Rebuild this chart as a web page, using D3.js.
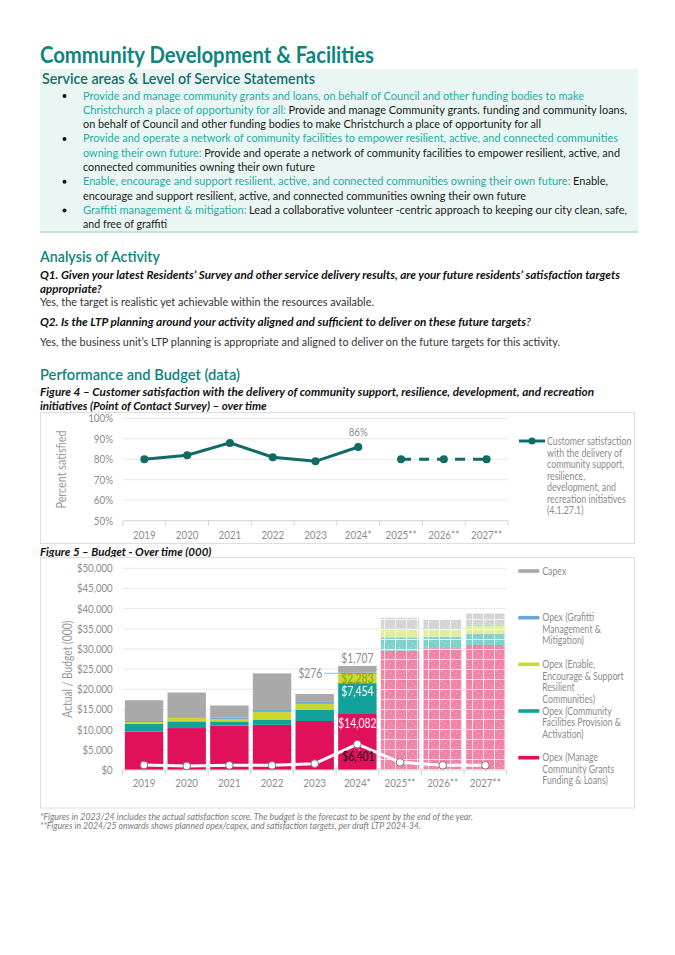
<!DOCTYPE html>
<html>
<head>
<meta charset="utf-8">
<script src="https://cdn.jsdelivr.net/npm/d3@7"></script>
<style>
  body { margin: 0; background: #fff; }
  svg text { font-family: Lato, "Noto Sans", sans-serif; }
  svg text.run { white-space: pre; }
</style>
</head>
<body>
<div id="page"></div>
<script>
// ---------- data ----------
const years = ["2019", "2020", "2021", "2022", "2023", "2024*", "2025**", "2026**", "2027**"];
const forecastFrom = 6; // index of first planned year

const satisfaction = [80, 82, 88, 81, 79, 86, 80, 80, 80];
const satTicks = [0.5, 0.6, 0.7, 0.8, 0.9, 1.0];

const opexGrants = [9500, 10400, 11000, 11200, 12150, 14082, 29600, 30200, 31000];
const opexFacilities = [1900, 1650, 1050, 1200, 2750, 7454, 3300, 2800, 2700];
const opexEnable = [500, 850, 550, 2000, 1500, 2283, 1900, 1900, 2000];
const opexGraffiti = [250, 200, 350, 500, 500, 276, 250, 250, 300];
const capex = [5150, 6100, 3050, 9050, 1950, 1707, 2700, 2100, 2800];
const whiteLine = [1240, 1000, 1150, 1150, 1570, 6401, 1900, 1160, 1160];
const budgetTicks = [0, 5000, 10000, 15000, 20000, 25000, 30000, 35000, 40000, 45000, 50000];

const seriesKeys = ["grants", "facilities", "enable", "graffiti", "capex"];
const seriesLabels = {
  capex: ["Capex"],
  graffiti: ["Opex (Grafitti", "Management &", "Mitigation)"],
  enable: ["Opex (Enable,", "Encourage & Support", "Resilient", "Communities)"],
  facilities: ["Opex (Community", "Facilities Provision &", "Activation)"],
  grants: ["Opex (Manage", "Community Grants", "Funding & Loans)"]
};
const satLegend = ["Customer satisfaction", "with the delivery of", "community support,", "resilience,",
  "development, and", "recreation initiatives", "(4.1.27.1)"];

// ---------- page text ----------
const bulletLines = [
  { b: true, end: 584, s: [["t", "Provide and manage community grants and loans, on behalf of Council and other funding bodies to make"]] },
  { end: 627, s: [["t", "Christchurch a place of opportunity for all: "], ["k", "Provide and manage Community grants. funding and community loans,"]] },
  { end: 541, s: [["k", "on behalf of Council and other funding bodies to make Christchurch a place of opportunity for all"]] },
  { b: true, end: 618, s: [["t", "Provide and operate a network of community facilities to empower resilient, active, and connected communities"]] },
  { end: 620, s: [["t", "owning their own future: "], ["k", "Provide and operate a network of community facilities to empower resilient, active, and"]] },
  { end: 315, s: [["k", "connected communities owning their own future"]] },
  { b: true, end: 608, s: [["t", "Enable, encourage and support resilient, active, and connected communities owning their own future: "], ["k", "Enable,"]] },
  { end: 526, s: [["k", "encourage and support resilient, active, and connected communities owning their own future"]] },
  { b: true, end: 627, s: [["t", "Graffiti management & mitigation: "], ["k", "Lead a collaborative volunteer -centric approach to keeping our city clean, safe,"]] },
  { end: 167, s: [["k", "and free of graffiti"]] }
];

const W = 675, H = 955;
const teal = "#0b857d";
const grey = "#8c8c8c";

// squeeze text horizontally (the original face is narrower than the installed ones)
function squeeze(sel, f) {
  sel.each(function () {
    const n = this.getComputedTextLength();
    d3.select(this).attr("textLength", n * f).attr("lengthAdjust", "spacingAndGlyphs");
  });
  return sel;
}
function fitTo(sel, w) {
  return sel.attr("textLength", w).attr("lengthAdjust", "spacingAndGlyphs");
}

const svg = d3.select("#page").append("svg")
  .attr("width", W).attr("height", H);

svg.append("rect").attr("width", W).attr("height", H).attr("fill", "#fff");

// title
fitTo(svg.append("text").attr("x", 40).attr("y", 63)
  .attr("font-size", 22).attr("font-weight", 700).attr("fill", teal)
  .text("Community Development & Facilities"), 334);

// service areas box
svg.append("rect").attr("x", 40).attr("y", 69).attr("width", 598).attr("height", 163)
  .attr("fill", "#eaf6f4");
svg.append("line").attr("x1", 40).attr("x2", 638).attr("y1", 232).attr("y2", 232)
  .attr("stroke", "#bfe3df").attr("stroke-width", 2);

fitTo(svg.append("text").attr("x", 42).attr("y", 84)
  .attr("font-size", 15).attr("font-weight", 600).attr("fill", "#136f69")
  .text("Service areas & Level of Service Statements"), 273);

bulletLines.forEach((line, i) => {
  const y = 99.5 + i * 14.3;
  if (line.b) {
    svg.append("circle").attr("cx", 64.5).attr("cy", y - 3.5).attr("r", 2).attr("fill", "#111");
  }
  // each coloured run is its own text, squeezed by the same factor
  const parts = line.s.map(([c, txt]) => svg.append("text").attr("class", "run")
    .attr("y", y).attr("font-size", 11.7)
    .attr("fill", c === "t" ? "#22aea3" : "#1a1a1a").text(txt.trimEnd()));
  const gaps = line.s.map(([, txt]) => txt.endsWith(" ") ? 3 : 0);
  const widths = parts.map(p => p.node().getComputedTextLength());
  const f = (line.end - 83 - d3.sum(gaps) * 0.9) / d3.sum(widths);
  let xPos = 83;
  parts.forEach((p, j) => {
    p.attr("x", xPos);
    fitTo(p, widths[j] * f);
    xPos += widths[j] * f + gaps[j] * 0.9;
  });
});

// analysis
fitTo(svg.append("text").attr("x", 40).attr("y", 262)
  .attr("font-size", 15).attr("font-weight", 600).attr("fill", teal)
  .text("Analysis of Activity"), 120);

function qText(y, txt) {
  return svg.append("text").attr("x", 40).attr("y", y)
    .attr("font-size", 11.5).attr("font-weight", 700).attr("font-style", "italic").attr("fill", "#111")
    .text(txt);
}
function pText(y, txt) {
  return svg.append("text").attr("x", 40).attr("y", y)
    .attr("font-size", 11.5).attr("fill", "#333").text(txt);
}
fitTo(qText(279, "Q1. Given your latest Residents\u2019 Survey and other service delivery results, are your future residents\u2019 satisfaction targets"), 580);
qText(292.5, "appropriate?");
fitTo(pText(305.5, "Yes, the target is realistic yet achievable within the resources available."), 334);
const q2 = qText(325.5, "Q2.  Is the LTP planning around your activity aligned and sufficient to deliver on these future targets");
q2.append("tspan").attr("font-weight", 400).text("?");
fitTo(q2, 491);
fitTo(pText(345.5, "Yes, the business unit\u2019s LTP planning is appropriate and aligned to deliver on the future targets for this activity."), 520);

fitTo(svg.append("text").attr("x", 40).attr("y", 379.5)
  .attr("font-size", 15).attr("font-weight", 600).attr("fill", teal)
  .text("Performance and Budget (data)"), 200);
fitTo(qText(395.5, "Figure 4  \u2013 Customer satisfaction with the delivery of community support, resilience, development, and recreation"), 554);
qText(409.5, "initiatives (Point of Contact Survey) \u2013 over time");
qText(555.5, "Figure 5  \u2013 Budget - Over time (000)");

// chart frames
svg.append("rect").attr("x", 40.5).attr("y", 412.5).attr("width", 594).attr("height", 131)
  .attr("fill", "none").attr("stroke", "#dedede");
svg.append("rect").attr("x", 40.5).attr("y", 557.5).attr("width", 594).attr("height", 250.5)
  .attr("fill", "none").attr("stroke", "#dedede");

// ---------- Figure 4 ----------
const x1 = d3.scaleBand().domain(years).range([123, 508]);
const y1 = d3.scaleLinear().domain([0.5, 1]).range([520.7, 418.3]);
const f4 = svg.append("g");

f4.selectAll(".grid").data(satTicks.slice(1)).join("line")
  .attr("x1", 123).attr("x2", 508)
  .attr("y1", d => y1(d)).attr("y2", d => y1(d))
  .attr("stroke", "#e8e8e8");
f4.append("line").attr("x1", 123).attr("x2", 508).attr("y1", y1(0.5)).attr("y2", y1(0.5))
  .attr("stroke", "#d4d4d4");
f4.selectAll(".tk").data(d3.range(years.length + 1)).join("line")
  .attr("x1", i => 123 + i * x1.step()).attr("x2", i => 123 + i * x1.step())
  .attr("y1", y1(0.5)).attr("y2", y1(0.5) + 5).attr("stroke", "#d4d4d4");
squeeze(f4.selectAll(".yl").data(satTicks).join("text")
  .attr("x", 113).attr("y", d => y1(d) + 4).attr("text-anchor", "end")
  .attr("font-size", 11.5).attr("fill", grey).text(d => d3.format(".0%")(d)), 0.85);
squeeze(f4.selectAll(".xl").data(years).join("text")
  .attr("x", d => x1(d) + x1.bandwidth() / 2).attr("y", 538.5).attr("text-anchor", "middle")
  .attr("font-size", 11.5).attr("fill", grey).text(d => d), 0.85);
fitTo(f4.append("text").attr("transform", `translate(66,${(y1(0.5) + y1(1)) / 2}) rotate(-90)`)
  .attr("text-anchor", "middle").attr("font-size", 12.5).attr("fill", "#9a9a9a").text("Percent satisfied"), 78);

const satPts = satisfaction.map((v, i) => ({ x: x1(years[i]) + x1.bandwidth() / 2, y: y1(v / 100), i }));
const lineGen = d3.line().x(d => d.x).y(d => d.y);
const lineColor = "#0f6b63";
f4.append("path").attr("d", lineGen(satPts.slice(0, forecastFrom)))
  .attr("fill", "none").attr("stroke", lineColor).attr("stroke-width", 3);
f4.append("path").attr("d", lineGen(satPts.slice(forecastFrom)))
  .attr("fill", "none").attr("stroke", lineColor).attr("stroke-width", 3)
  .attr("stroke-dasharray", "10,8");
f4.selectAll(".pt").data(satPts).join("circle")
  .attr("cx", d => d.x).attr("cy", d => d.y).attr("r", 4).attr("fill", lineColor);
const lastActual = satPts[forecastFrom - 1];
squeeze(f4.append("text").attr("x", lastActual.x).attr("y", lastActual.y - 11)
  .attr("text-anchor", "middle").attr("font-size", 11.5).attr("fill", grey)
  .text(satisfaction[forecastFrom - 1] + "%"), 0.85);

// legend fig 4
f4.append("line").attr("x1", 519).attr("x2", 545).attr("y1", 441).attr("y2", 441)
  .attr("stroke", lineColor).attr("stroke-width", 3);
f4.append("circle").attr("cx", 532).attr("cy", 441).attr("r", 3.5).attr("fill", lineColor);
squeeze(f4.selectAll(".lg").data(satLegend).join("text")
  .attr("x", 547).attr("y", (d, i) => 445 + i * 11.5)
  .attr("font-size", 10.5).attr("fill", grey).text(d => d), 0.84);

// ---------- Figure 5 ----------
const x2 = d3.scaleBand().domain(years).range([122.7, 506.7]).paddingInner(0.1).paddingOuter(0.05);
const y2 = d3.scaleLinear().domain([0, 50000]).range([770, 568.3]);
const f5 = svg.append("g");

const colors = { grants: "#e0115a", facilities: "#12a29b", enable: "#c9d932", graffiti: "#6aa6de", capex: "#a9a9a9" };
const lightColors = { grants: "#ef84a9", facilities: "#7fd1cc", enable: "#e4ed9f", graffiti: "#b9d6f1", capex: "#d4d4d4" };

const defs = svg.append("defs");
seriesKeys.forEach(k => {
  const p = defs.append("pattern").attr("id", "pat-" + k)
    .attr("patternUnits", "userSpaceOnUse").attr("width", 11).attr("height", 10);
  p.append("rect").attr("width", 11).attr("height", 10).attr("fill", lightColors[k]);
  p.append("path").attr("d", "M1,1h1v1h-1zM5,3h1v1h-1zM8,6h1v1h-1zM3,7h1v1h-1z")
    .attr("fill", "#fff").attr("fill-opacity", 0.35);
  p.append("path").attr("d", "M10.5,0V10M0,9.5H11")
    .attr("stroke", "#fff").attr("stroke-opacity", 0.75).attr("stroke-width", 1);
});

f5.selectAll(".grid").data(budgetTicks.slice(1)).join("line")
  .attr("x1", 122.7).attr("x2", 506.7)
  .attr("y1", d => y2(d)).attr("y2", d => y2(d))
  .attr("stroke", "#e8e8e8");
squeeze(f5.selectAll(".yl").data(budgetTicks).join("text")
  .attr("x", 112.7).attr("y", d => y2(d) + 4).attr("text-anchor", "end")
  .attr("font-size", 11.5).attr("fill", grey).text(d => "$" + d3.format(",")(d)), 0.84);
fitTo(f5.append("text").attr("transform", `translate(72,${(y2(0) + y2(50000)) / 2}) rotate(-90)`)
  .attr("text-anchor", "middle").attr("font-size", 12.5).attr("fill", "#9a9a9a").text("Actual / Budget (000)"), 97);

const table = years.map((yr, i) => ({
  year: yr, i,
  grants: opexGrants[i], facilities: opexFacilities[i], enable: opexEnable[i],
  graffiti: opexGraffiti[i], capex: capex[i]
}));
const stacked = d3.stack().keys(seriesKeys)(table);

stacked.forEach(layer => {
  f5.append("g").selectAll("rect").data(layer).join("rect")
    .attr("x", d => x2(d.data.year))
    .attr("width", x2.bandwidth())
    .attr("y", d => y2(d[1]))
    .attr("height", d => y2(d[0]) - y2(d[1]))
    .attr("fill", d => d.data.i >= forecastFrom ? `url(#pat-${layer.key})` : colors[layer.key]);
});

f5.append("line").attr("x1", 122.7).attr("x2", 506.7).attr("y1", y2(0)).attr("y2", y2(0))
  .attr("stroke", "#d4d4d4");
f5.selectAll(".tk").data(d3.range(years.length + 1)).join("line")
  .attr("x1", i => 122.7 + i * x2.step()).attr("x2", i => 122.7 + i * x2.step())
  .attr("y1", y2(0)).attr("y2", y2(0) + 5).attr("stroke", "#d4d4d4");
squeeze(f5.selectAll(".xl").data(years).join("text")
  .attr("x", d => x2(d) + x2.bandwidth() / 2).attr("y", 787).attr("text-anchor", "middle")
  .attr("font-size", 11.5).attr("fill", grey).text(d => d), 0.85);

// data labels for latest actual year (inside end of each segment)
const li = forecastFrom - 1;
const cx = x2(years[li]) + x2.bandwidth() / 2;
const fmt = d => "$" + d3.format(",")(d);
const segOf = k => stacked.find(s => s.key === k)[li];
const mid = k => (y2(segOf(k)[0]) + y2(segOf(k)[1])) / 2;
const topOf = k => y2(segOf(k)[1]);
function dataLabel(x, y, txt, fill, anchor) {
  return squeeze(f5.append("text").attr("x", x).attr("y", y).attr("text-anchor", anchor || "middle")
    .attr("font-size", 12.5).attr("fill", fill).text(txt), 0.82);
}
dataLabel(cx, topOf("grants") + 15, fmt(opexGrants[li]), "#fff");
dataLabel(cx, topOf("facilities") + 13, fmt(opexFacilities[li]), "#fff");
dataLabel(cx, mid("enable") + 4.5, fmt(opexEnable[li]), "#8e9a24");
dataLabel(cx, topOf("capex") - 3, fmt(capex[li]), grey);
const gy = mid("graffiti");
f5.append("line").attr("x1", x2(years[li]) - 14).attr("x2", x2(years[li]) + 2)
  .attr("y1", gy).attr("y2", gy).attr("stroke", "#9cc8ee").attr("stroke-width", 1.2);
dataLabel(x2(years[li]) - 16, gy + 4.5, fmt(opexGraffiti[li]), grey, "end");

// white line series
const wPts = whiteLine.map((v, i) => ({ x: x2(years[i]) + x2.bandwidth() / 2, y: y2(v) }));
f5.append("path").attr("d", lineGen(wPts)).attr("fill", "none")
  .attr("stroke", "#fff").attr("stroke-width", 3);
f5.selectAll(".wp").data(wPts).join("circle")
  .attr("cx", d => d.x).attr("cy", d => d.y).attr("r", 3.8)
  .attr("fill", "#fff").attr("stroke", "#7a7a7a").attr("stroke-width", 1);
const wp = wPts[li];
f5.append("line").attr("x1", wp.x + 1).attr("y1", wp.y + 4).attr("x2", wp.x + 4).attr("y2", wp.y + 9)
  .attr("stroke", "#b0a0a8").attr("stroke-width", 0.8);
dataLabel(wp.x + 1, wp.y + 17, fmt(whiteLine[li]), "#111");

// legend fig 5
const legTops = { capex: 571, graffiti: 617.7, enable: 664.3, facilities: 711, grants: 757.7 };
["capex", "graffiti", "enable", "facilities", "grants"].forEach(k => {
  const ly = legTops[k];
  f5.append("rect").attr("x", 518.3).attr("y", ly - 1.8).attr("width", 21).attr("height", 3.6)
    .attr("fill", colors[k]);
  seriesLabels[k].forEach((t, j) => {
    squeeze(f5.append("text").attr("x", 542.3).attr("y", ly + 3.7 + j * 11.5)
      .attr("font-size", 10.5).attr("fill", grey).text(t), 0.83);
  });
});

// footnotes
fitTo(svg.append("text").attr("x", 40).attr("y", 819.5).attr("font-size", 8.7).attr("font-style", "italic")
  .attr("fill", "#7a7a7a")
  .text("*Figures in 2023/24 includes the actual satisfaction score. The budget is the forecast to be spent by the end of the year."), 433);
fitTo(svg.append("text").attr("x", 40).attr("y", 829).attr("font-size", 8.7).attr("font-style", "italic")
  .attr("fill", "#7a7a7a")
  .text("**Figures in 2024/25 onwards shows planned opex/capex, and satisfaction targets, per draft LTP 2024-34."), 381);
</script>
</body>
</html>
